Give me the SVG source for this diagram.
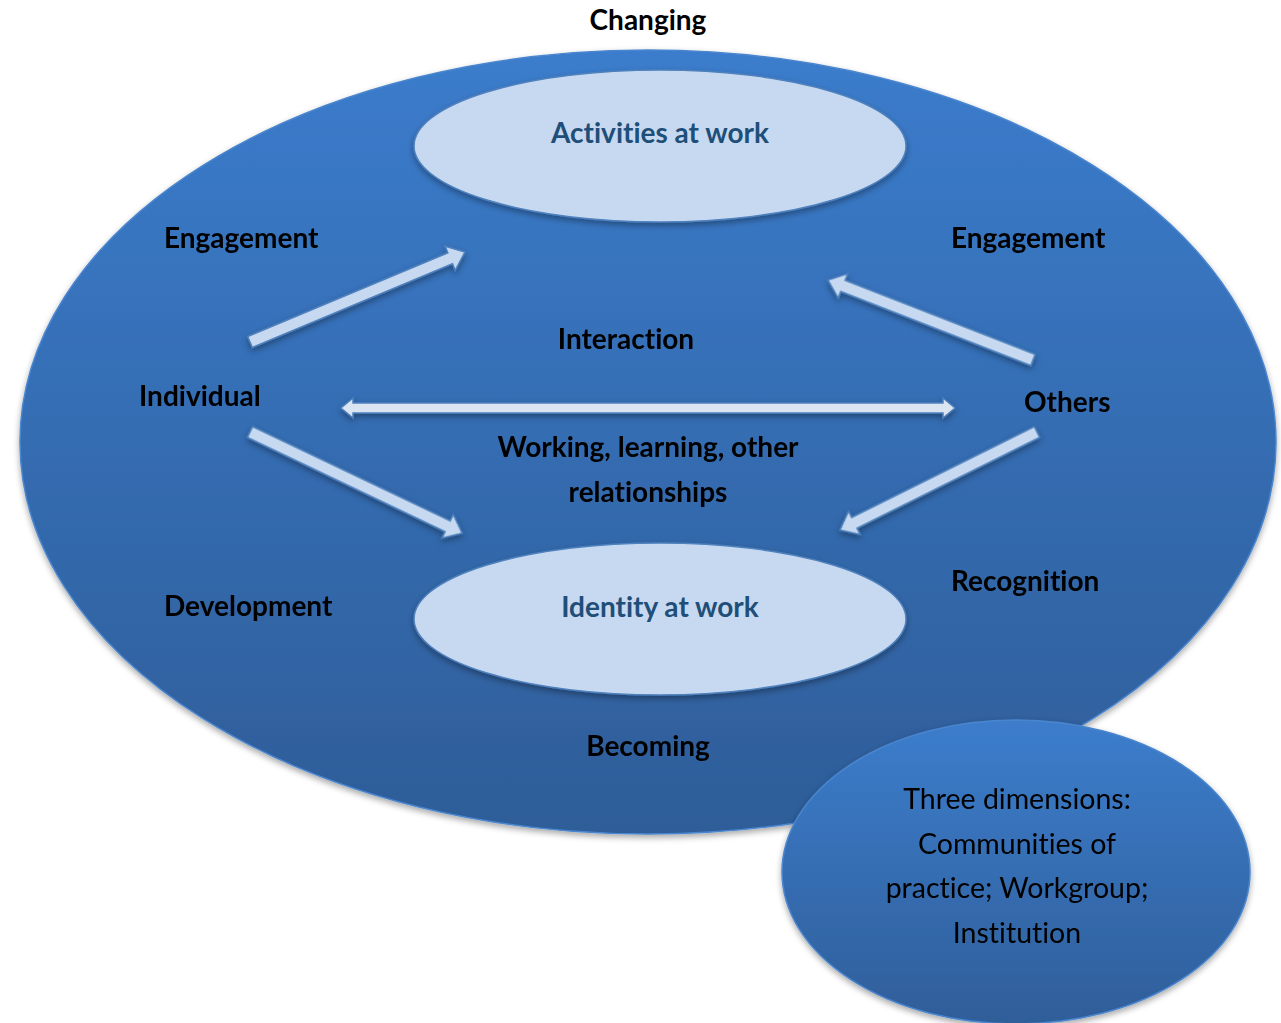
<svg xmlns="http://www.w3.org/2000/svg" width="1281" height="1023" viewBox="0 0 1281 1023">
<defs>
<linearGradient id="gBig" x1="0" y1="0" x2="0" y2="1">
<stop offset="0" stop-color="#3b7ccc"/>
<stop offset="1" stop-color="#2e5d98"/>
</linearGradient>
<linearGradient id="gSmall" x1="0" y1="0" x2="0" y2="1">
<stop offset="0" stop-color="#3c7dcc"/>
<stop offset="1" stop-color="#2f5e99"/>
</linearGradient>
<filter id="sh" x="-20%" y="-20%" width="140%" height="150%">
<feDropShadow dx="0" dy="3" stdDeviation="3" flood-color="#000" flood-opacity="0.35"/>
</filter>
<style>
text{font-variant-ligatures:none}
.lbl{font-family:Lato,"Liberation Sans",sans-serif;font-weight:bold;font-size:28px;fill:#000}
.in{font-family:Lato,"Liberation Sans",sans-serif;font-weight:bold;font-size:28px;fill:#1f4e79}
.sm{font-family:Lato,"Liberation Sans",sans-serif;font-size:28.5px;fill:#000}
.inner{fill:#c6d9f0;stroke:#4f81bd;stroke-width:1.5}
.arr{fill:#c6d9f0;stroke:#4f81bd;stroke-width:1.5;stroke-linejoin:miter}
</style>
</defs>
<rect width="1281" height="1023" fill="#ffffff"/>
<g id="outer">
<ellipse cx="648" cy="442" rx="628" ry="392" fill="url(#gBig)" stroke="#4a86cf" stroke-width="1.5" filter="url(#sh)"/>
</g>
<text class="lbl" x="648" y="30" text-anchor="middle">Changing</text>
<g id="activities">
<ellipse class="inner" cx="660" cy="146" rx="246" ry="76" filter="url(#sh)"/>
<text class="in" x="660" y="143" text-anchor="middle">Activities at work</text>
</g>
<g id="identity">
<ellipse class="inner" cx="660" cy="619" rx="246" ry="76" filter="url(#sh)"/>
<text class="in" x="660" y="617" text-anchor="middle">Identity at work</text>
</g>
<g id="connectors" filter="url(#sh)">
<polygon class="arr" transform="translate(250,342) rotate(-22.7)" points="0,-6 217,-6 217,-13 233,0 217,13 217,6 0,6"/>
<polygon class="arr" transform="translate(1033,360) rotate(201.3)" points="0,-6 204,-6 204,-13 220,0 204,13 204,6 0,6"/>
<polygon class="arr" transform="translate(341,408)" points="0,0 12,-10 12,-5 602,-5 602,-10 614,0 602,10 602,5 12,5 12,10" style="fill:#dbe5f1"/>
<polygon class="arr" transform="translate(250,432) rotate(25.5)" points="0,-6 219,-6 219,-13 235,0 219,13 219,6 0,6"/>
<polygon class="arr" transform="translate(1037,432) rotate(153.55)" points="0,-6 204,-6 204,-13 220,0 204,13 204,6 0,6"/>
</g>
<g id="labels">
<text class="lbl" x="164" y="248">Engagement</text>
<text class="lbl" x="951" y="248">Engagement</text>
<text class="lbl" x="626" y="349" text-anchor="middle">Interaction</text>
<text class="lbl" x="139" y="406">Individual</text>
<text class="lbl" x="1024" y="412">Others</text>
<text class="lbl" x="648" y="457" text-anchor="middle">Working, learning, other</text>
<text class="lbl" x="648" y="502" text-anchor="middle">relationships</text>
<text class="lbl" x="164" y="616">Development</text>
<text class="lbl" x="951" y="591">Recognition</text>
<text class="lbl" x="648" y="756" text-anchor="middle">Becoming</text>
</g>
<g id="dimensions">
<ellipse cx="1016" cy="872" rx="234" ry="152" fill="url(#gSmall)" stroke="#4a86cf" stroke-width="1.5" filter="url(#sh)"/>
<text class="sm" x="1017" y="809" text-anchor="middle">Three dimensions:</text>
<text class="sm" x="1017" y="854" text-anchor="middle">Communities of</text>
<text class="sm" x="1017" y="898" text-anchor="middle">practice; Workgroup;</text>
<text class="sm" x="1017" y="943" text-anchor="middle">Institution</text>
</g>
</svg>
